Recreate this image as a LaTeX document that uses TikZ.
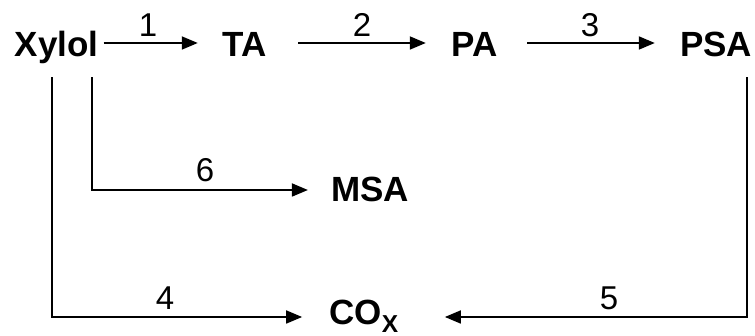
\documentclass[tikz,border=0pt]{standalone}
\usepackage{fontspec}
\setmainfont{Liberation Sans}
\usetikzlibrary{arrows.meta}
\tikzset{
	chem/.style={font=\fontsize{35}{40}\selectfont\bfseries, inner sep=0pt, text height=28pt, text depth=0pt},
	num/.style={font=\fontsize{33}{36}\selectfont, inner sep=0pt, anchor=base},
	flow/.style={line width=1.8pt, -{Triangle[length=16pt,width=13pt]}},
}

\begin{document}
\begin{tikzpicture}[x=1pt,y=-1pt]
			%%%%% START %%%%%
			
			\useasboundingbox (0,0) rectangle (755,336);
			
			\node[chem] (xylol) at (56.5,43) {Xylol};
			\node[chem] (ta) at (245,43) {TA};
			\node[chem] (pa) at (475,43) {PA};
			\node[chem] (psa) at (716,43) {PSA};
			\node[chem, text height=24pt] (msa) at (370,190) {MSA};
			\node[chem, text height=17pt] (cox) at (364,316) {CO\textsubscript{X}};
			
			\draw[flow, shorten <=5pt, shorten >=25pt] (xylol) -- (ta);
			\draw[flow, shorten <=31pt, shorten >=26pt] (ta) -- (pa);
			\draw[flow, shorten <=29pt, shorten >=25pt] (pa) -- (psa);
			\draw[flow, shorten <=20pt, shorten >=23pt] ([xshift=35.5pt]xylol.south) |- (msa);
			\draw[flow, shorten <=20pt, shorten >=27pt] ([xshift=-4.5pt]xylol.south) |- ([yshift=-1pt]cox.west);
			\draw[flow, shorten <=20pt, shorten >=46pt] ([xshift=31pt]psa.south) |- ([yshift=-1pt]cox.east);
			
			\node[num] (r1) at (148,37) {1};
			\node[num] (r2) at (362,37) {2};
			\node[num] (r3) at (590,37) {3};
			\node[num] (r4) at (165,310) {4};
			\node[num] (r5) at (609,310) {5};
			\node[num] (r6) at (205,182) {6};
			
			%%%%% END %%%%%
\end{tikzpicture}
\end{document}
